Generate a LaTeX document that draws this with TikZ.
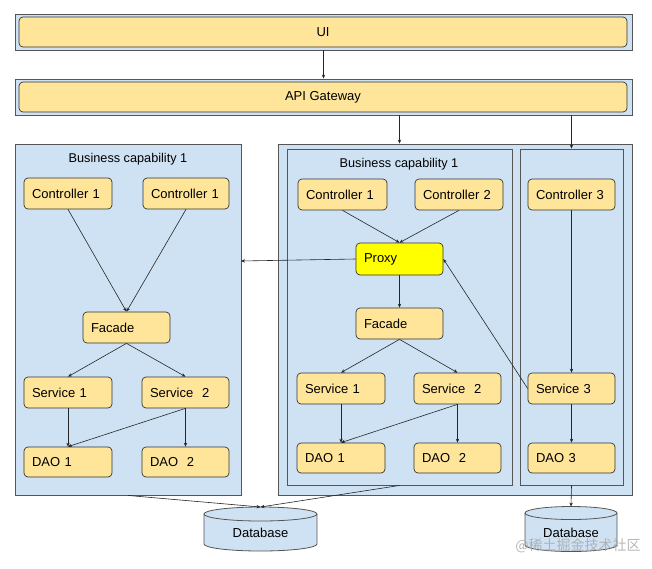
\documentclass[tikz,border=0pt]{standalone}
\usepackage{fontspec}
\setmainfont{Liberation Sans}
\newfontfamily\cjk{Noto Sans CJK SC}
\usetikzlibrary{arrows.meta,calc}
\definecolor{panelblue}{HTML}{CFE2F3}
\definecolor{cardyellow}{HTML}{FFE599}
\definecolor{proxyyellow}{HTML}{FFFF00}
\definecolor{edgegray}{HTML}{555555}
\definecolor{cardedge}{HTML}{333333}
\begin{document}
\begin{tikzpicture}[x=1pt,y=1pt,
 panel/.style={draw=edgegray, fill=panelblue, line width=0.9pt, inner sep=0pt},
 cardbase/.style={draw=cardedge, fill=cardyellow, rounded corners=4pt, line width=0.7pt, font=\fontsize{13}{15}\selectfont, inner sep=0pt},
 card/.style={cardbase, align=left, text width=#1-16pt, minimum width=#1, minimum height=31pt},
 wide/.style={cardbase, minimum width=608pt, minimum height=30pt},
 title/.style={font=\fontsize{12.7}{15}\selectfont},
 arr/.style={-{Stealth[length=4pt,width=3.4pt]}, line width=0.6pt, draw=black!85},
 dbs/.style={draw=edgegray, fill=panelblue, line width=0.8pt},
]
\useasboundingbox (0,0) rectangle (652,-568);
\fill[white] (0,0) rectangle (652,-568);

% top bands
\node[panel, minimum width=617pt, minimum height=36pt] (uiband) at (323.5,-32) {};
\node[wide] (ui) at (323,-32) {UI};
\node[panel, minimum width=617pt, minimum height=36pt] (apiband) at (323.5,-97) {};
\node[wide] (api) at (323,-97) {API Gateway};

% panels
\node[panel, minimum width=226pt, minimum height=351pt] (out1) at (128,-319.5) {};
\node[panel, minimum width=354pt, minimum height=351pt] (out2) at (455,-319.5) {};
\node[panel, minimum width=225pt, minimum height=336pt] (in1) at (399.5,-317) {};
\node[panel, minimum width=103pt, minimum height=336pt] (in2) at (571.5,-317) {};

\node[title] (t1) at (128,-159) {Business capability 1};
\node[title] (t2) at (399,-164) {Business capability 1};

% databases
\filldraw[dbs] (204,-514) -- (204,-544) arc[start angle=180,end angle=360,x radius=56.5,y radius=7] -- (317,-514) arc[start angle=0,end angle=180,x radius=56.5,y radius=7] -- cycle;
\draw[dbs, fill=none] (204,-514) arc[start angle=180,end angle=360,x radius=56.5,y radius=7];
\node[font=\fontsize{13}{15}\selectfont] (db1) at (260.5,-533) {Database};
\coordinate (db1top) at (260.5,-507);

\filldraw[dbs] (525,-513) -- (525,-545) arc[start angle=180,end angle=360,x radius=46,y radius=6.5] -- (617,-513) arc[start angle=0,end angle=180,x radius=46,y radius=6.5] -- cycle;
\draw[dbs, fill=none] (525,-513) arc[start angle=180,end angle=360,x radius=46,y radius=6.5];
\node[font=\fontsize{13}{15}\selectfont] (db2) at (571,-533) {Database};
\coordinate (db2top) at (571,-506.5);

% cards left
\node[card=88pt] (lc1) at (68,-193.5) {Controller 1};
\node[card=86pt] (lc2) at (186,-193.5) {Controller 1};
\node[card=87pt] (lfac) at (126.5,-327.5) {Facade};
\node[card=88pt] (ls1) at (68,-392.5) {Service 1};
\node[card=87pt] (ls2) at (185.5,-392.5) {Service\ \ 2};
\node[card=88pt, minimum height=30pt] (ld1) at (68,-462) {DAO 1};
\node[card=87pt, minimum height=30pt] (ld2) at (185.5,-462) {DAO\ \ 2};

% cards right
\node[card=89pt] (rc1) at (342.5,-194.5) {Controller 1};
\node[card=88pt] (rc2) at (459,-194.5) {Controller 2};
\node[card=87pt] (rc3) at (571.5,-194.5) {Controller 3};
\node[card=87pt, fill=proxyyellow, minimum height=32pt] (proxy) at (399.5,-259) {Proxy};
\node[card=87pt] (rfac) at (399.5,-323.5) {Facade};
\node[card=88pt] (rs1) at (341,-388.5) {Service 1};
\node[card=87pt] (rs2) at (457.5,-388.5) {Service\ \ 2};
\node[card=87pt] (rs3) at (571.5,-388.5) {Service 3};
\node[card=88pt, minimum height=30pt] (rd1) at (341,-458) {DAO 1};
\node[card=87pt, minimum height=30pt] (rd2) at (457.5,-458) {DAO\ \ 2};
\node[card=87pt, minimum height=30pt] (rd3) at (571.5,-458) {DAO 3};

\coordinate (lhit) at (241,-261);

% connectors
\draw[arr] (uiband.south) -- (apiband.north);
\draw[arr] (apiband.south -| in1.north) -- (out2.north -| in1.north);
\draw[arr] (apiband.south -| in2.north) -- (in2.north);

\draw[arr] (lc1.south) -- (lfac.north);
\draw[arr] (lc2.south) -- (lfac.north);
\draw[arr] (lfac.south) -- (ls1.north);
\draw[arr] (lfac.south) -- (ls2.north);
\draw[arr] (ls1.south) -- (ld1.north);
\draw[arr] (ls2.south) -- (ld1.north);
\draw[arr] (ls2.south) -- (ld2.north);

\draw[arr] (rc1.south) -- (proxy.north);
\draw[arr] (rc2.south) -- (proxy.north);
\draw[arr] (proxy.west) -- (lhit);
\draw[arr] (proxy.south) -- (rfac.north);
\draw[arr] (rfac.south) -- (rs1.north);
\draw[arr] (rfac.south) -- (rs2.north);
\draw[arr] (rs1.south) -- (rd1.north);
\draw[arr] (rs2.south) -- (rd1.north);
\draw[arr] (rs2.south) -- (rd2.north);
\draw[arr] (rc3.south) -- (rs3.north);
\draw[arr] (rs3.west) -- (proxy.east);
\draw[arr] (rs3.south) -- (rd3.north);

\draw[arr] (out1.south) -- (db1top);
\draw[arr] (in1.south) -- (db1top);
\draw[arr] (in2.south) -- (db2top);

% watermark
\node[font=\cjk\fontsize{14}{16}\selectfont, text=black!35, opacity=0.8] (wm) at (578,-546) {@稀土掘金技术社区};
\end{tikzpicture}
\end{document}
